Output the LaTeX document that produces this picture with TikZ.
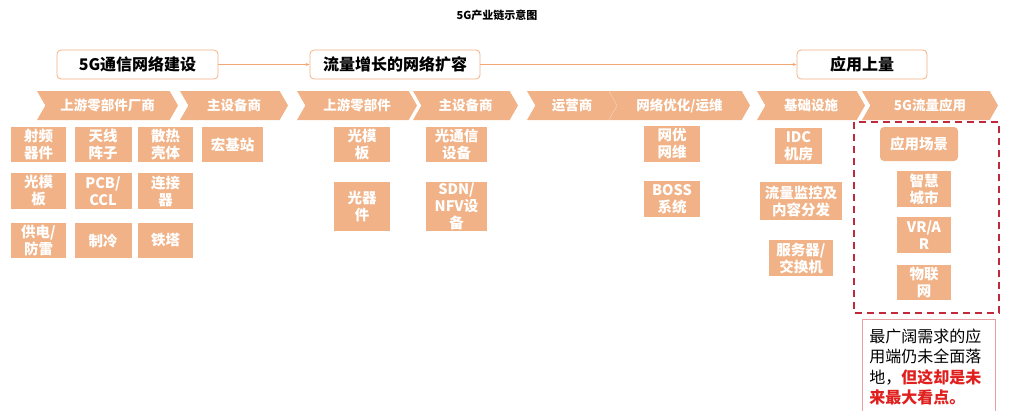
\documentclass[tikz,border=0pt]{standalone}
\usepackage{fontspec}
\setmainfont{Noto Sans CJK SC}
\usepackage{xcolor}
\definecolor{chainfill}{HTML}{F0B286}
\definecolor{chainedge}{HTML}{F4B183}
\definecolor{flowline}{HTML}{F2A774}
\definecolor{dashred}{HTML}{C0283C}
\definecolor{noteedge}{HTML}{E6A0A0}
\definecolor{notered}{HTML}{E0201E}
\usepackage{tikz}
\usetikzlibrary{arrows.meta, shapes.symbols}

\begin{document}
\begin{tikzpicture}[
  x=1pt, y=-1pt,
  stagebox/.style={
    draw=chainedge, fill=white, thick, rounded corners=4pt,
    minimum height=29pt, font=\fontsize{16}{18}\selectfont\bfseries
  },
  chevron/.style={
    signal, signal to=east, signal from=west, signal pointer angle=120,
    fill=chainfill, text=white, inner sep=0pt, minimum height=29pt,
    font=\fontsize{13.5}{15}\selectfont\bfseries
  },
  partbox/.style={
    fill=chainfill, text=white, inner sep=0pt, align=center,
    font=\fontsize{14.5}{17}\selectfont\bfseries
  },
  arr/.style={-{Stealth[length=4pt]}, flowline, semithick}
]
  \useasboundingbox (0,0) rectangle (1009,410);

  \node[font=\fontsize{11}{13}\selectfont\bfseries] (title) at (497,15) {5G产业链示意图};

  % three stages along the top
  \node[stagebox, minimum width=161pt] (sbuild) at (137.5,64.5) {5G通信网络建设};
  \node[stagebox, minimum width=170pt] (sexpand) at (395,64.5) {流量增长的网络扩容};
  \node[stagebox, minimum width=130pt] (sapply) at (862,64.5) {应用上量};
  \draw[arr] (sbuild) -- (sexpand);
  \draw[arr] (sexpand) -- (sapply);

  % chain of links
  \node[chevron, minimum width=141pt] (cparts)  at (107.5,105.5) {上游零部件厂商};
  \node[chevron, minimum width=108pt] (cmain)   at (234,105.5)   {主设备商};
  \node[chevron, minimum width=120pt] (cparts2) at (357,105.5)   {上游零部件};
  \node[chevron, minimum width=105pt] (cmain2)  at (465.5,105.5) {主设备商};
  \node[chevron, minimum width=90pt]  (coper)   at (572,105.5)   {运营商};
  \node[chevron, minimum width=141pt] (coptim)  at (679.5,105.5) {网络优化/运维};
  \node[chevron, minimum width=108pt] (cinfra)  at (811,105.5)   {基础设施};
  \node[chevron, minimum width=136pt] (capps)   at (930,105.5)   {5G流量应用};

  % upstream parts and main equipment
  \node[partbox, minimum width=55pt, minimum height=35pt] (prf)    at (38.5,144.5) {射频\\器件};
  \node[partbox, minimum width=57pt, minimum height=35pt] (pant)   at (103,144.5)  {天线\\阵子};
  \node[partbox, minimum width=55pt, minimum height=35pt] (pheat)  at (165.5,144.5) {散热\\壳体};
  \node[partbox, minimum width=61pt, minimum height=35pt] (pmacro) at (232.5,144.5) {宏基站};
  \node[partbox, minimum width=55pt, minimum height=36pt] (popt)   at (38.5,191)   {光模\\板};
  \node[partbox, minimum width=57pt, minimum height=36pt] (ppcb)   at (103,191)    {PCB/\\CCL};
  \node[partbox, minimum width=55pt, minimum height=36pt] (pconn)  at (165.5,191)  {连接\\器};
  \node[partbox, minimum width=55pt, minimum height=35pt] (ppower) at (38.5,240.5) {供电/\\防雷};
  \node[partbox, minimum width=57pt, minimum height=35pt] (pcool)  at (103,240.5)  {制冷};
  \node[partbox, minimum width=55pt, minimum height=35pt] (ptower) at (165.5,240.5) {铁塔};

  % expansion parts
  \node[partbox, minimum width=56pt, minimum height=35pt] (eopt)   at (362,144.5)   {光模\\板};
  \node[partbox, minimum width=56pt, minimum height=49pt] (edev)   at (362,206.5)   {光器\\件};
  \node[partbox, minimum width=61pt, minimum height=35pt] (ecomm)  at (456.5,144.5) {光通信\\设备};
  \node[partbox, minimum width=61pt, minimum height=49pt] (esdn)   at (456.5,206.5) {SDN/\\NFV设\\备};
  \node[partbox, minimum width=56pt, minimum height=36pt] (onet)   at (672,144)     {网优\\网维};
  \node[partbox, minimum width=56pt, minimum height=36pt] (oboss)  at (672,199)     {BOSS\\系统};
  \node[partbox, minimum width=47pt, minimum height=36pt] (iidc)   at (798.5,146)   {IDC\\机房};
  \node[partbox, minimum width=82pt, minimum height=38pt] (imon)   at (801,201)     {流量监控及\\内容分发};
  \node[partbox, minimum width=64pt, minimum height=36pt] (iserv)  at (801,258)     {服务器/\\交换机};

  % applications
  \draw[dashred, line width=1.8pt, dash pattern=on 7pt off 5pt] (854,122) rectangle (999,313);
  \node[partbox, rounded corners=4pt, minimum width=78pt, minimum height=34pt] (ascene) at (919,144) {应用场景};
  \node[partbox, minimum width=54pt, minimum height=36pt] (acity) at (924,189)   {智慧\\城市};
  \node[partbox, minimum width=54pt, minimum height=36pt] (avr)   at (924,235)   {VR/A\\R};
  \node[partbox, minimum width=54pt, minimum height=35pt] (aiot)  at (924,282.5) {物联\\网};

  \node[draw=noteedge, thick, anchor=north west, align=left, text width=119pt,
    inner xsep=7pt, inner ysep=6pt, minimum height=95pt,
    font=\fontsize{16}{20.5}\selectfont] (note) at (862,319)
    {最广阔需求的应\\用端仍未全面落\\地，{\color{notered}\bfseries 但这却是未}\\{\color{notered}\bfseries 来最大看点。}};
\end{tikzpicture}
\end{document}
